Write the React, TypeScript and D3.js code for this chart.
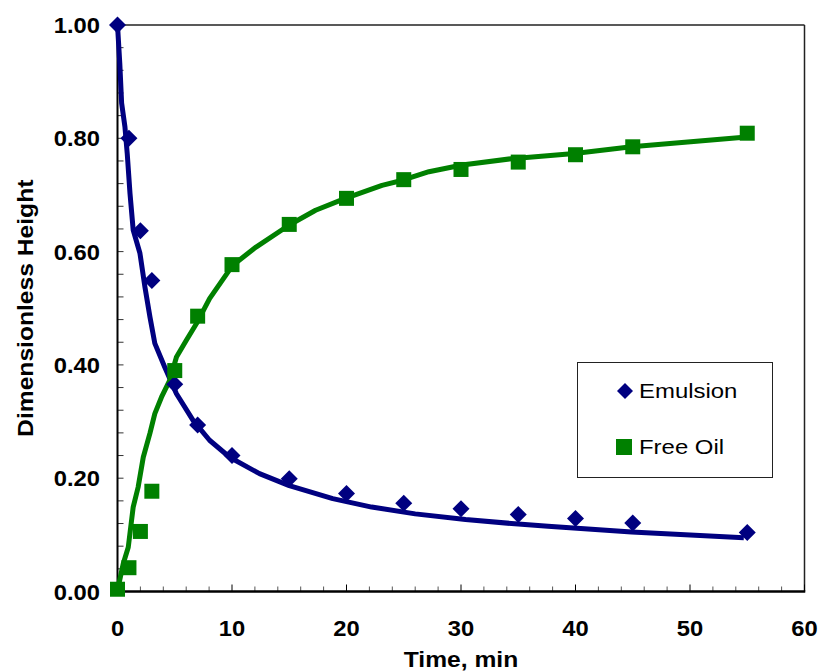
import React from "react";
import * as d3 from "d3";

const emulsionT = [0, 1, 2, 3, 5, 7, 10, 15, 20, 25, 30, 35, 40, 45, 55];
const emulsionV = [1.0, 0.8, 0.637, 0.549, 0.366, 0.294, 0.24, 0.199, 0.173, 0.156, 0.146, 0.136, 0.129, 0.121, 0.104];
const freeOilT = [0, 1, 2, 3, 5, 7, 10, 15, 20, 25, 30, 35, 40, 45, 55];
const freeOilV = [0.004, 0.042, 0.106, 0.177, 0.39, 0.486, 0.577, 0.648, 0.694, 0.727, 0.745, 0.758, 0.771, 0.785, 0.809];

const emulsionFitT = [0, 0.2, 0.36, 0.65, 0.85, 1.09, 1.37, 1.96, 2.39, 2.83, 3.26, 4.13, 5.15, 6.6, 8.04, 9.8, 12.4, 15.0, 18.8, 22.2, 26.0, 30.4, 35, 37.6, 44.9, 54.7];
const emulsionFitV = [1.0, 0.932, 0.862, 0.82, 0.773, 0.703, 0.638, 0.597, 0.538, 0.485, 0.438, 0.396, 0.349, 0.302, 0.267, 0.237, 0.208, 0.187, 0.164, 0.149, 0.137, 0.127, 0.119, 0.115, 0.105, 0.095];
const freeOilFitT = [0, 0.5, 0.94, 1.37, 1.8, 2.25, 2.83, 3.26, 3.84, 4.57, 5.15, 6.0, 6.9, 8.04, 10.07, 12.1, 15.0, 17.3, 19.9, 23.1, 24.9, 27.2, 30.1, 34.4, 39.9, 44.9, 54.7];
const freeOilFitV = [0.002, 0.049, 0.078, 0.149, 0.184, 0.237, 0.279, 0.314, 0.343, 0.373, 0.414, 0.443, 0.473, 0.517, 0.576, 0.608, 0.647, 0.673, 0.694, 0.717, 0.726, 0.741, 0.753, 0.764, 0.773, 0.785, 0.802];

const xTicks = [0, 10, 20, 30, 40, 50, 60];
const yTicks = [0, 0.2, 0.4, 0.6, 0.8, 1.0];
const seriesNames = ["Emulsion", "Free Oil"];

const NAVY = "#000080";
const GREEN = "#008000";
const FONT = "'Liberation Sans', Arial, sans-serif";

export default function App() {
  const x = d3.scaleLinear().domain([0, 60]).range([117.5, 804.5]);
  const y = d3.scaleLinear().domain([0, 1]).range([591.5, 25]);
  const line = d3.line<[number, number]>().x((d) => x(d[0])).y((d) => y(d[1]));
  const emFit: [number, number][] = emulsionFitT.map((t, i) => [t, emulsionFitV[i]]);
  const foFit: [number, number][] = freeOilFitT.map((t, i) => [t, freeOilFitV[i]]);
  const xMinor = d3.range(0, 60.01, 2);
  const yMinor = d3.range(0, 1.001, 0.04);
  const diamond = (cx: number, cy: number, r: number) =>
    `M${cx},${cy - r}L${cx + r},${cy}L${cx},${cy + r}L${cx - r},${cy}Z`;

  const [x0, x1] = x.range();
  const [yb, yt] = y.range();

  return (
    <svg width={820} height={671} style={{ position: "absolute", left: 0, top: 0, background: "#fff" }}>
      <rect x={0} y={0} width={820} height={671} fill="#fff" />
      {/* frame */}
      <line x1={x0} x2={x1} y1={yt} y2={yt} stroke="#222" strokeWidth={1.5} />
      <line x1={x1} x2={x1} y1={yt} y2={yb} stroke="#222" strokeWidth={1.5} />
      {/* minor ticks */}
      {xMinor.map((t) => (
        <line key={"xm" + t} x1={x(t)} x2={x(t)} y1={yb} y2={yb - (t % 10 === 0 ? 7 : 5)} stroke={t % 10 === 0 ? "#000" : "#555"} strokeWidth={1} />
      ))}
      {yMinor.map((v) => (
        <line key={"ym" + v} x1={x0} x2={x0 + 6} y1={y(v)} y2={y(v)} stroke="#333" strokeWidth={1} />
      ))}
      {/* axes */}
      <line x1={x0} x2={x0} y1={yt} y2={yb} stroke="#000" strokeWidth={2} />
      <line x1={x0 - 1} x2={x1 + 0.75} y1={yb} y2={yb} stroke="#000" strokeWidth={2.5} />
      {/* tick labels */}
      {xTicks.map((t) => (
        <g key={"xt" + t} transform={`translate(${x(t)},636) scale(1.08,1)`}>
          <text textAnchor="middle" fontFamily={FONT} fontWeight="bold" fontSize={22} fill="#000">{t}</text>
        </g>
      ))}
      {yTicks.map((v) => (
        <g key={"yt" + v} transform={`translate(100,${y(v) + 8}) scale(1.08,1)`}>
          <text textAnchor="end" fontFamily={FONT} fontWeight="bold" fontSize={22} fill="#000">{v.toFixed(2)}</text>
        </g>
      ))}
      {/* axis titles */}
      <g transform={`translate(${(x0 + x1) / 2},667) scale(1.12,1)`}>
        <text textAnchor="middle" fontFamily={FONT} fontWeight="bold" fontSize={22} fill="#000">Time, min</text>
      </g>
      <g transform={`translate(33,${(yt + yb) / 2}) rotate(-90) scale(1.12,1)`}>
        <text textAnchor="middle" fontFamily={FONT} fontWeight="bold" fontSize={22} fill="#000">Dimensionless Height</text>
      </g>
      {/* fit lines */}
      <path d={line(emFit) || ""} fill="none" stroke={NAVY} strokeWidth={5} strokeLinejoin="round" />
      <path d={line(foFit) || ""} fill="none" stroke={GREEN} strokeWidth={5} strokeLinejoin="round" />
      {/* markers */}
      {emulsionT.map((t, i) => (
        <path key={"em" + i} d={diamond(x(t), y(emulsionV[i]), 8.5)} fill={NAVY} />
      ))}
      {freeOilT.map((t, i) => (
        <rect key={"fo" + i} x={x(t) - 7.5} y={y(freeOilV[i]) - 7.5} width={15} height={15} fill={GREEN} />
      ))}
      {/* legend */}
      <rect x={577.5} y={362.5} width={195} height={115} fill="#fff" stroke="#222" strokeWidth={1} />
      <path d={diamond(625, 391, 8)} fill={NAVY} />
      <g transform={`translate(639,398) scale(1.14,1)`}>
        <text fontFamily={FONT} fontSize={21} fill="#000">{seriesNames[0]}</text>
      </g>
      <rect x={616} y={439} width={16} height={16} fill={GREEN} />
      <g transform={`translate(639,454) scale(1.14,1)`}>
        <text fontFamily={FONT} fontSize={21} fill="#000">{seriesNames[1]}</text>
      </g>
    </svg>
  );
}
